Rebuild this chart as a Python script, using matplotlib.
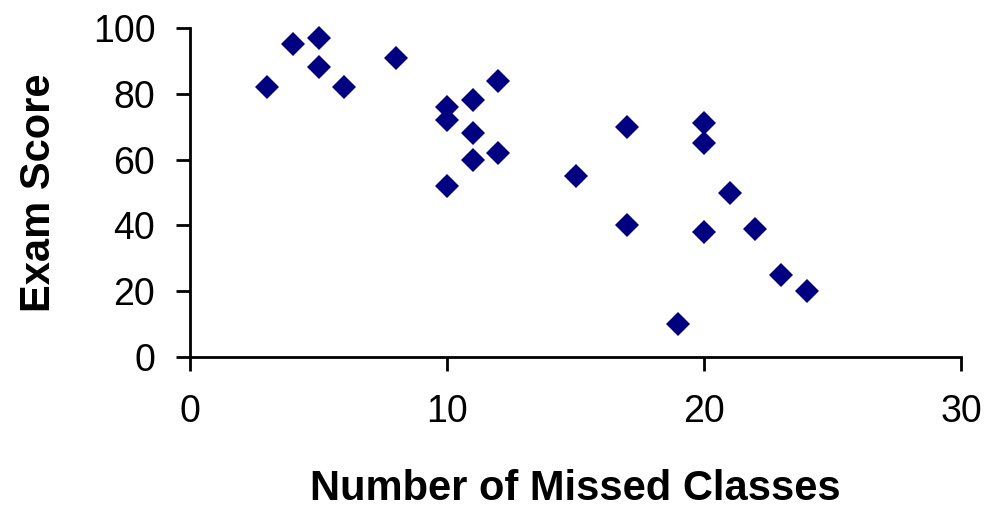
import matplotlib.pyplot as plt

# data
missed = [3, 4, 5, 5, 6, 8, 10, 10, 10, 11, 11, 11, 12, 12, 15, 17, 17, 19, 20, 20, 20, 21, 22, 23, 24]
score = [82, 95, 97, 88, 82, 91, 76, 72, 52, 78, 68, 60, 84, 62, 55, 70, 40, 10, 71, 65, 38, 50, 39, 25, 20]
x_ticks = [0, 10, 20, 30]
y_ticks = [0, 20, 40, 60, 80, 100]

plt.rcParams['font.family'] = ['Liberation Sans', 'DejaVu Sans']

fig = plt.figure(figsize=(9.92, 5.12), dpi=100)
ax = fig.add_axes([190 / 992, 1 - 357 / 512, (961 - 190) / 992, (357 - 28) / 512])

ax.plot(missed, score, linestyle='none', marker='D', markersize=12,
        color='#000080', markeredgewidth=0, clip_on=False)

ax.set_xlim(0, 30)
ax.set_ylim(0, 100)
ax.set_xticks(x_ticks)
ax.set_yticks(y_ticks)

for side in ['top', 'right']:
    ax.spines[side].set_visible(False)
for side in ['left', 'bottom']:
    ax.spines[side].set_linewidth(2)

ax.tick_params(axis='both', direction='out', length=10, width=2, labelsize=27, colors='black')
ax.tick_params(axis='x', pad=17)
ax.tick_params(axis='y', pad=15)

ax.set_xlabel('Number of Missed Classes', fontsize=30, fontweight='bold', labelpad=28)
ax.set_ylabel('Exam Score', fontsize=30, fontweight='bold', labelpad=24)

fig.savefig('out.png', dpi=100)
